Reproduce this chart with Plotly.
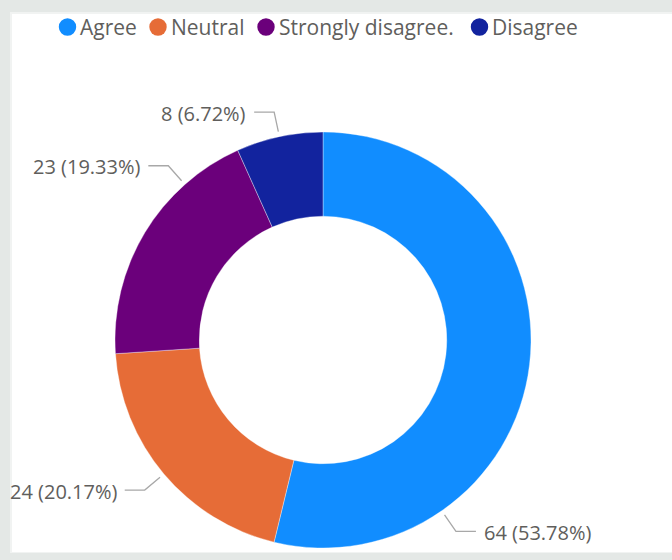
import math
import plotly.graph_objects as go

# Survey responses
categories = ["Agree", "Neutral", "Strongly disagree.", "Disagree"]
counts = [64, 24, 23, 8]
colors = ["#118DFF", "#E66C37", "#6B007B", "#12239E"]

# Where along each slice the data-label leader line attaches (0 = start, 1 = end)
label_anchor_frac = [0.75, 0.5, 0.75, 0.5]

# Legend item circle centres (px, left to right)
legend_x = [67.5, 158, 266, 479.5]

# Canvas and donut geometry (pixels)
W, H = 672, 560
CX, CY, R = 323, 340, 208
HOLE = 0.595
R_LINE0, R_LINE1 = 213, 233      # leader line: radial part
H_SEG, TEXT_GAP = 20, 7          # leader line: horizontal part, gap to text
TEXT_COLOR = "#605E5C"
LINE_COLOR = "#A8A8A8"
FONT = "Segoe UI, Open Sans, sans-serif"

total = sum(counts)
pcts = [c / total * 100 for c in counts]

fig = go.Figure()

# Donut
fig.add_trace(go.Pie(
    labels=categories,
    values=counts,
    sort=False,
    direction="clockwise",
    rotation=0,
    hole=HOLE,
    marker=dict(colors=colors, line=dict(color="rgba(255,255,255,0.6)", width=0.6)),
    textinfo="none",
    showlegend=False,
    domain=dict(x=[(CX - R) / W, (CX + R) / W],
                y=[(H - CY - R) / H, (H - CY + R) / H]),
))

# Leader lines and data labels
annotations = []
start = 0.0
for cat, c, p, frac in zip(categories, counts, pcts, label_anchor_frac):
    theta = math.radians(360 * (start + frac * c / total))
    s, co = math.sin(theta), math.cos(theta)
    x0, y0 = CX + R_LINE0 * s, CY - R_LINE0 * co
    x1, y1 = CX + R_LINE1 * s, CY - R_LINE1 * co
    side = 1 if s > 0 else -1
    x2 = x1 + side * H_SEG
    fig.add_trace(go.Scatter(
        x=[x0, x1, x2], y=[y0, y1, y1], mode="lines",
        line=dict(color=LINE_COLOR, width=1.3),
        hoverinfo="skip", showlegend=False,
    ))
    annotations.append(dict(
        x=x2 + side * TEXT_GAP, y=y1 + 1, xref="x", yref="y",
        text=f"{c} ({p:.2f}%)", showarrow=False,
        xanchor="left" if side > 0 else "right", yanchor="middle",
        borderpad=0,
        font=dict(family=FONT, size=20, color=TEXT_COLOR),
    ))
    start += c / total

# Legend: coloured dots with category names
shapes = [
    # report page background and white visual panel
    dict(type="rect", xref="x", yref="y", x0=10, x1=W, y0=12, y1=553,
         fillcolor="#F1F3F2", line=dict(width=0), layer="below"),
    dict(type="rect", xref="x", yref="y", x0=12, x1=W, y0=14, y1=552,
         fillcolor="white", line=dict(width=0), layer="below"),
]
for cat, col, lx in zip(categories, colors, legend_x):
    shapes.append(dict(type="circle", xref="x", yref="y",
                       x0=lx - 8.7, x1=lx + 8.7, y0=27 - 8.7, y1=27 + 8.7,
                       fillcolor=col, line=dict(width=0)))
    annotations.append(dict(
        x=lx + 11.5, y=27, xref="x", yref="y", text=cat, showarrow=False,
        xanchor="left", yanchor="middle", borderpad=0,
        font=dict(family=FONT, size=21, color=TEXT_COLOR),
    ))

fig.update_layout(
    width=W, height=H, autosize=False,
    margin=dict(l=0, r=0, t=0, b=0),
    paper_bgcolor="#E4E8E6",
    plot_bgcolor="rgba(0,0,0,0)",
    xaxis=dict(range=[0, W], visible=False, fixedrange=True, domain=[0, 1]),
    yaxis=dict(range=[H, 0], visible=False, fixedrange=True, domain=[0, 1]),
    shapes=shapes,
    annotations=annotations,
    showlegend=False,
)

fig.write_html("out.html")
